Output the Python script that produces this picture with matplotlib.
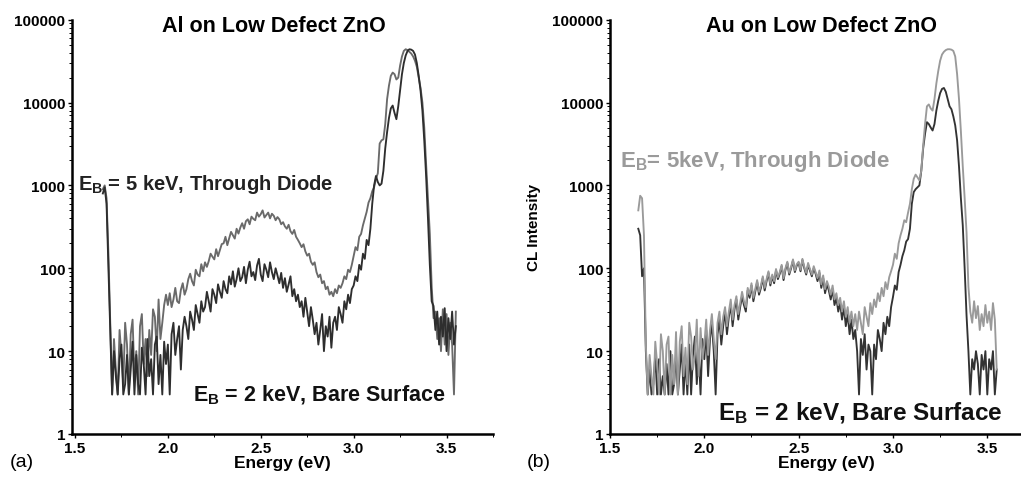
import numpy as np
import matplotlib
matplotlib.use("Agg")
import matplotlib.pyplot as plt
from matplotlib.ticker import LogLocator, MultipleLocator, NullFormatter

plt.rcParams['font.family'] = ['Liberation Sans', 'DejaVu Sans']
plt.rcParams['mathtext.fontset'] = 'custom'
plt.rcParams['mathtext.rm'] = 'Liberation Sans:bold'
plt.rcParams['mathtext.it'] = 'Liberation Sans:bold'
plt.rcParams['mathtext.bf'] = 'Liberation Sans:bold'

# energy grid of the spectra, 1.65 .. 3.55 eV in 0.01 eV steps
energy = np.round(np.arange(165, 356) / 100.0, 2)

# (a) Al on low defect ZnO (counts)
al_diode = [900, 1000, 700, 150, 20,
	3, 14, 6, 3, 18, 9, 4, 22, 12, 3,
	16, 24, 5, 10, 3, 20, 28, 7, 14, 5,
	18, 9, 32, 26, 10, 42, 14, 22, 36, 48,
	36, 50, 34, 42, 58, 40, 38, 55, 66, 48,
	56, 74, 86, 70, 62, 96, 84, 80, 112, 92,
	118, 104, 122, 150, 138, 128, 170, 140, 165, 196,
	200, 240, 190, 230, 275, 250, 228, 300, 262, 310,
	350, 300, 370, 390, 340, 420, 395, 380, 470, 420,
	450, 500, 410, 440, 470, 400, 455, 430, 380, 415,
	390, 340, 360, 320, 300, 335, 280, 260, 290, 240,
	220, 200, 180, 195, 160, 142, 150, 120, 110, 118,
	90, 78, 84, 66, 70, 56, 60, 48, 52, 46,
	56, 50, 62, 58, 66, 80, 74, 96, 90, 110,
	140, 180, 165, 240, 260, 330, 400, 480, 620, 700,
	850, 950, 1200, 1400, 3200, 3500, 3600, 5500, 11000, 16000,
	21000, 23000, 22000, 19000, 20000, 28000, 36000, 42000, 44000, 43000,
	41000, 39000, 36000, 32000, 27000, 20000, 15000, 10000, 5000, 1800,
	700, 260, 60, 25, 30, 14, 25, 10, 32, 12,
	28, 9, 22, 12, 3, 30]

al_bare = [800, 950, 600, 100, 15,
	3, 10, 5, 3, 8, 12, 3, 4, 9, 3,
	6, 13, 3, 9, 4, 3, 11, 7, 3, 14,
	5, 8, 3, 12, 15, 4, 9, 3, 13, 7,
	12, 3, 16, 22, 9, 14, 20, 6, 18, 26,
	20, 14, 30, 24, 18, 36, 28, 22, 40, 30,
	34, 52, 40, 30, 56, 48, 38, 64, 52, 44,
	70, 56, 50, 80, 64, 92, 60, 74, 100, 70,
	78, 104, 66, 96, 120, 80, 90, 72, 108, 130,
	84, 70, 112, 96, 78, 118, 90, 74, 100, 82,
	66, 88, 58, 76, 52, 64, 80, 46, 56, 40,
	48, 34, 40, 26, 44, 30, 20, 34, 24, 16,
	22, 12, 18, 28, 10, 20, 15, 26, 11, 22,
	26, 18, 34, 28, 22, 40, 32, 48, 38, 56,
	62, 80, 70, 110, 96, 150, 130, 220, 190, 300,
	600, 1000, 1300, 1100, 1000, 1050, 1500, 2800, 4400, 6500,
	8500, 9200, 7500, 6300, 9000, 14000, 22000, 30000, 37000, 42000,
	44000, 43500, 42000, 38000, 30000, 21000, 14000, 8000, 3500, 1300,
	400, 110, 40, 35, 18, 30, 12, 26, 15, 33,
	10, 25, 14, 30, 12, 20]

# (b) Au on low defect ZnO
au_diode = [500, 750, 700, 250, 12,
	3, 9, 5, 3, 13, 7, 3, 16, 10, 3,
	12, 15, 3, 9, 4, 17, 3, 13, 20, 5,
	11, 4, 22, 15, 6, 9, 24, 5, 19, 8,
	12, 24, 9, 18, 28, 14, 8, 22, 30, 16,
	26, 34, 20, 30, 42, 24, 36, 46, 28, 38,
	52, 40, 34, 58, 48, 66, 44, 56, 72, 52,
	62, 80, 58, 74, 92, 66, 84, 70, 98, 78,
	90, 110, 76, 100, 120, 88, 104, 128, 94, 112,
	120, 96, 130, 104, 88, 116, 98, 84, 106, 90,
	76, 94, 64, 82, 56, 70, 60, 48, 62, 42,
	50, 36, 44, 30, 40, 26, 34, 22, 30, 20,
	28, 18, 30, 22, 16, 34, 26, 20, 38, 28,
	42, 34, 50, 40, 58, 46, 68, 56, 78, 92,
	110, 150, 130, 200, 250, 300, 380, 360, 470, 600,
	900, 1200, 1350, 1250, 1150, 1500, 3000, 5500, 9000, 9500,
	8500, 8000, 11000, 17000, 24000, 32000, 38000, 41000, 43000, 44000,
	44000, 43500, 42000, 36000, 22000, 11000, 4500, 1700, 700, 270,
	60, 30, 22, 40, 25, 35, 18, 28, 20, 36,
	22, 30, 18, 38, 24, 6]

au_bare = [300, 250, 80, 100, 10,
	3, 6, 3, 4, 9, 3, 8, 3, 5, 3,
	7, 3, 10, 3, 4, 9, 3, 6, 12, 3,
	8, 3, 12, 3, 9, 15, 4, 10, 3, 14,
	8, 18, 5, 14, 22, 10, 3, 16, 24, 12,
	20, 30, 16, 26, 36, 20, 32, 42, 24, 34,
	46, 36, 30, 54, 44, 62, 40, 52, 68, 48,
	58, 76, 54, 70, 88, 62, 80, 66, 94, 74,
	86, 106, 72, 96, 116, 84, 100, 124, 90, 108,
	116, 92, 126, 100, 84, 110, 94, 80, 100, 86,
	70, 88, 58, 76, 50, 64, 54, 42, 56, 36,
	44, 30, 38, 24, 34, 20, 28, 16, 24, 14,
	18, 10, 3, 14, 9, 16, 6, 12, 10, 3,
	12, 8, 18, 14, 10, 22, 16, 26, 20, 34,
	45, 62, 55, 90, 110, 140, 165, 210, 225, 300,
	600, 830, 900, 950, 1000, 1500, 2800, 4200, 5800, 5500,
	5000, 4600, 5500, 8000, 10500, 13000, 14600, 15000, 13500, 11000,
	9000, 8300, 6800, 5300, 3500, 1700, 700, 330, 100, 27,
	10, 3, 8, 6, 10, 7, 3, 9, 6, 10,
	3, 8, 6, 10, 3, 6]

y_ticks = [1, 10, 100, 1000, 10000, 100000]
y_tick_labels = ["1", "10", "100", "1000", "10000", "100000"]
x_ticks = [1.5, 2.0, 2.5, 3.0, 3.5]
x_tick_labels = ["1.5", "2.0", "2.5", "3.0", "3.5"]


def setup_axis(ax, x_min, x_max, title, title_x):
	ax.set_yscale('log')
	ax.set_ylim(1, 1e5)
	ax.set_xlim(x_min, x_max)
	for side in ["top", "right"]:
		ax.spines[side].set_visible(False)
	for side in ["left", "bottom"]:
		ax.spines[side].set_linewidth(1.8)
	ax.set_yticks(y_ticks)
	ax.set_yticklabels(y_tick_labels, fontsize=11, fontweight='bold')
	ax.yaxis.set_minor_locator(LogLocator(base=10, subs=np.arange(2, 10)))
	ax.yaxis.set_minor_formatter(NullFormatter())
	ax.set_xticks(x_ticks)
	ax.set_xticklabels(x_tick_labels, fontsize=11, fontweight='bold')
	ax.xaxis.set_minor_locator(MultipleLocator(0.25))
	ax.tick_params(which='major', length=3, width=1, pad=2)
	ax.tick_params(which='minor', length=2, width=0.7)
	ax.set_xlabel("Energy (eV)", fontsize=12.5, fontweight='bold', labelpad=0)
	ax.text(title_x, 0.985, title, transform=ax.transAxes, ha='center', va='center',
			fontsize=15.5, fontweight='bold')


fig = plt.figure(figsize=(10.21, 4.81), dpi=100)

ax_a = fig.add_axes([72 / 1021, 1 - 435 / 481, (493 - 72) / 1021, (435 - 20.7) / 481])
ax_b = fig.add_axes([610 / 1021, 1 - 435 / 481, (1042 - 610) / 1021, (435 - 20.7) / 481])

# (a)
ax_a.plot(energy, al_diode, color="#6a6a6a", lw=1.35)
ax_a.plot(energy, al_bare, color="#2e2e2e", lw=1.35)
setup_axis(ax_a, 1.484, 3.75, "Al on Low Defect ZnO", 0.48)
ax_a.text(1.516, 1050, r"E$_B$ = 5 keV, Through Diode", fontsize=14.5, fontweight='bold',
		  color="#222222", va='center')
ax_a.text(2.135, 3.0, r"E$_B$ = 2 keV, Bare Surface", fontsize=15.5, fontweight='bold',
		  color="#111111", va='center')
fig.text(10 / 1021, 1 - 463 / 481, "(a)", fontsize=14, va='center')

# (b)
ax_b.plot(energy, au_bare, color="#333333", lw=1.35)
ax_b.plot(energy, au_diode, color="#9a9a9a", lw=1.35)
setup_axis(ax_b, 1.5, 3.79, "Au on Low Defect ZnO", 0.49)
ax_b.set_ylabel("CL Intensity", fontsize=11, fontweight='bold', labelpad=8)
ax_b.text(1.553, 2000, r"E$_B$= 5keV, Through Diode", fontsize=16, fontweight='bold',
		  color="#9a9a9a", va='center')
ax_b.text(2.071, 1.85, r"E$_B$ = 2 keV, Bare Surface", fontsize=17.5, fontweight='bold',
		  color="#111111", va='center')
fig.text(527 / 1021, 1 - 463 / 481, "(b)", fontsize=14, va='center')

fig.savefig("out.png", dpi=100)
